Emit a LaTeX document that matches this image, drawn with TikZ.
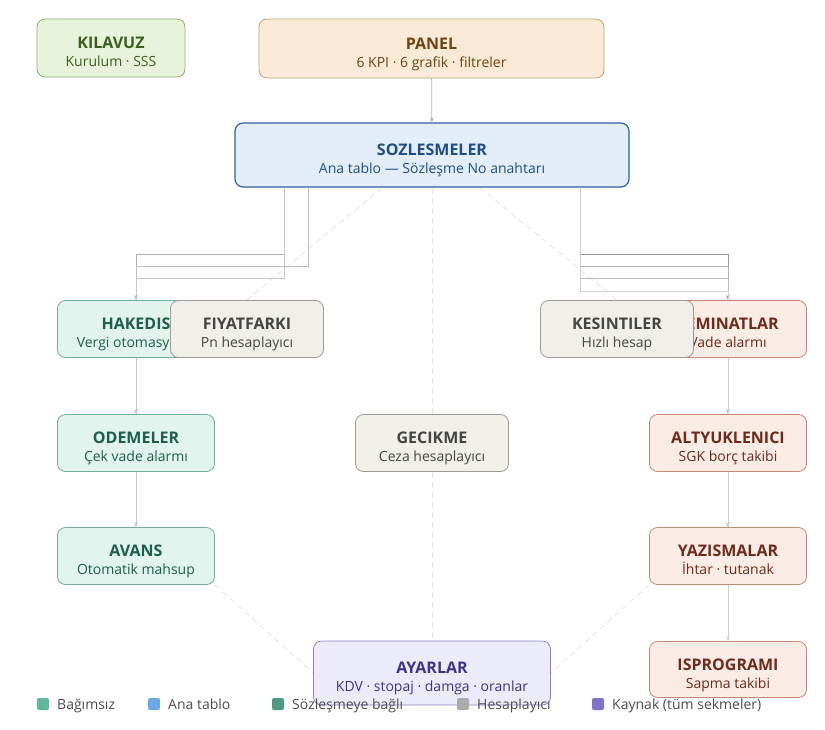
\documentclass[tikz,border=0pt]{standalone}
\usepackage{fontspec}
\setmainfont{Open Sans}
\usepackage{xcolor}
\usetikzlibrary{arrows.meta,backgrounds}

\definecolor{grnF}{HTML}{E1F4EE}\definecolor{grnD}{HTML}{72B09A}\definecolor{grnT}{HTML}{1E5E4C}
\definecolor{kilF}{HTML}{E8F3DC}\definecolor{kilD}{HTML}{8FAF6E}\definecolor{kilT}{HTML}{3B5E1E}
\definecolor{panF}{HTML}{FBEBD6}\definecolor{panD}{HTML}{C2A27A}\definecolor{panT}{HTML}{6E4214}
\definecolor{sozF}{HTML}{E3EEFA}\definecolor{sozD}{HTML}{2F62A0}\definecolor{sozT}{HTML}{1F4E85}
\definecolor{hesF}{HTML}{F1EFEA}\definecolor{hesD}{HTML}{9E9A92}\definecolor{hesT}{HTML}{454545}
\definecolor{redF}{HTML}{FBECE6}\definecolor{redD}{HTML}{C48A78}\definecolor{redT}{HTML}{6E2A1A}
\definecolor{ayaF}{HTML}{ECEBFC}\definecolor{ayaD}{HTML}{8C84C4}\definecolor{ayaT}{HTML}{3C3388}
% legend colours
\definecolor{keyA}{HTML}{5FB99A}\definecolor{keyB}{HTML}{6FA8E6}\definecolor{keyC}{HTML}{4E9A82}
\definecolor{keyD}{HTML}{ABABAB}\definecolor{keyE}{HTML}{7D74CC}

% title and sub line of a box
\newcommand{\tab}[2]{{\fontsize{16}{18}\selectfont\bfseries\rule{0pt}{23pt}#1}\\\rule[-4pt]{0pt}{4pt}#2}

\begin{document}
\begin{tikzpicture}[x=1pt, y=-1pt,
  box/.style={draw, rounded corners=8pt, align=center, line width=0.8pt, inner sep=0pt, minimum height=57pt, font=\fontsize{14}{18}\selectfont},
  grn/.style={box, fill=grnF, draw=grnD, text=grnT, minimum width=157pt},
  hes/.style={box, fill=hesF, draw=hesD, text=hesT, minimum width=153pt},
  kir/.style={box, fill=redF, draw=redD, text=redT, minimum width=157pt},
  wire/.style={draw=black!30, line width=0.8pt, -{Stealth[length=5pt,width=4pt]}},
  dep/.style={draw=black!10, line width=0.9pt, dash pattern=on 6pt off 4pt},
  key/.style={rounded corners=2pt, minimum size=12pt, inner sep=0pt},
  keytxt/.style={anchor=base west, inner sep=0pt, text=black!70, font=\fontsize{14}{16}\selectfont}]

  \useasboundingbox (0,0) rectangle (825,729);

  % top row
  \node[box, fill=kilF, draw=kilD, text=kilT, minimum width=148pt, minimum height=58pt] (kil) at (111,48) {\tab{KILAVUZ}{Kurulum · SSS}};
  \node[box, fill=panF, draw=panD, text=panT, minimum width=345pt, minimum height=59pt] (pan) at (431.5,48.5) {\tab{PANEL}{6 KPI · 6 grafik · filtreler}};
  \node[box, fill=sozF, draw=sozD, text=sozT, minimum width=394pt, minimum height=64pt, line width=1.2pt] (soz) at (432,155) {\tab{SOZLESMELER}{Ana tablo — Sözleşme No anahtarı}};

  % left column
  \node[grn] (hak) at (136,329) {\tab{HAKEDIS}{Vergi otomasyonu}};
  \node[hes] (fiy) at (247,329) {\tab{FIYATFARKI}{Pn hesaplayıcı}};
  \node[grn] (ode) at (136,443) {\tab{ODEMELER}{Çek vade alarmı}};
  \node[grn] (ava) at (136,556) {\tab{AVANS}{Otomatik mahsup}};

  % middle
  \node[hes] (gec) at (432,443) {\tab{GECIKME}{Ceza hesaplayıcı}};
  \node[box, fill=ayaF, draw=ayaD, text=ayaT, minimum width=237pt, minimum height=64pt] (aya) at (432,673) {\tab{AYARLAR}{KDV · stopaj · damga · oranlar}};

  % right column
  \node[kir] (tem) at (728,329) {\tab{TEMINATLAR}{Vade alarmı}};
  \node[hes] (kes) at (617,329) {\tab{KESINTILER}{Hızlı hesap}};
  \node[kir] (alt) at (728,443) {\tab{ALTYUKLENICI}{SGK borç takibi}};
  \node[kir] (yaz) at (728,556) {\tab{YAZISMALAR}{İhtar · tutanak}};
  \node[kir, minimum height=56pt] (isp) at (728,669.5) {\tab{ISPROGRAMI}{Sapma takibi}};

  \begin{pgfonlayer}{background}
    % dashed links
    \draw[dep] ([xshift=-50pt]soz.south) -- (fiy.north);
    \draw[dep] ([xshift=48pt]soz.south) -- (kes.north);
    \draw[dep] (soz) -- (gec);
    \draw[dep] (gec) -- (aya);
    \draw[dep] (ava.south east) -- (aya.west);
    \draw[dep] (yaz.south west) -- (aya.east);

    % solid links
    \draw[wire] (pan) -- (soz);
    \draw[wire] ([xshift=-148pt]soz.south) -- ++(0,67) -| (hak);
    \draw[wire, draw=black!25] ([xshift=-124pt]soz.south) -- ++(0,79) -| (ode);
    \draw[wire, draw=black!22] ([xshift=-148pt]soz.south) -- ++(0,91) -| (ava);
    \draw[wire, draw=black!40] ([xshift=148pt]soz.south) -- ++(0,67) -| (tem);
    \draw[wire, draw=black!30] ([xshift=148pt]soz.south) -- ++(0,79) -| (alt);
    \draw[wire, draw=black!25] ([xshift=148pt]soz.south) -- ++(0,91) -| (yaz);
    \draw[wire, draw=black!18] ([xshift=148pt]soz.south) -- ++(0,104) -| (isp);
  \end{pgfonlayer}

  % legend
  \node[key, fill=keyA] (k1) at (43,704) {};
  \node[keytxt] at (57,709.5) {Bağımsız};
  \node[key, fill=keyB] (k2) at (154,704) {};
  \node[keytxt] at (168,709.5) {Ana tablo};
  \node[key, fill=keyC] (k3) at (278,704) {};
  \node[keytxt] at (292,709.5) {Sözleşmeye bağlı};
  \node[key, fill=keyD] (k4) at (463,704) {};
  \node[keytxt] at (477,709.5) {Hesaplayıcı};
  \node[key, fill=keyE] (k5) at (598,704) {};
  \node[keytxt] at (612,709.5) {Kaynak (tüm sekmeler)};
\end{tikzpicture}
\end{document}
